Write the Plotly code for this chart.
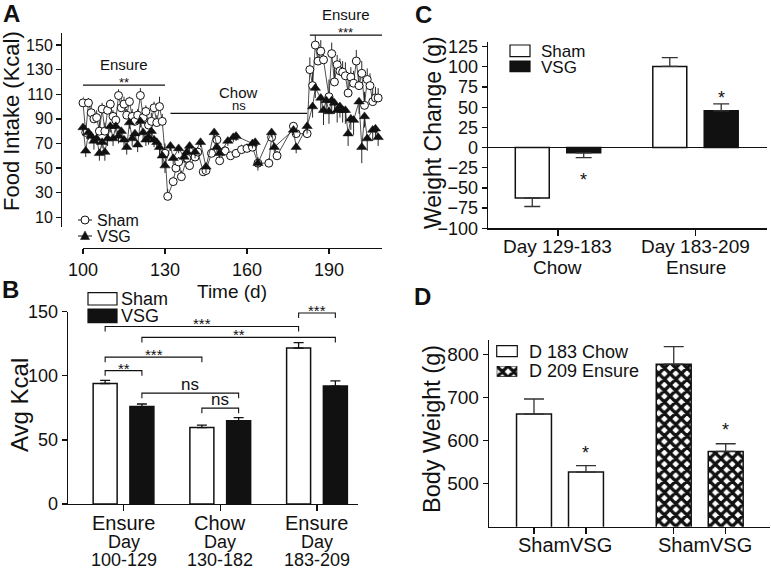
import plotly.graph_objects as go

W, H = 771, 569
FONT = "Liberation Sans, Arial, Helvetica, sans-serif"
INK = "#111111"


def X(px):
    return px / W


def Y(py):
    return 1 - py / H


# ---------------- Panel A : daily food intake ----------------
sham_days_ensure1 = [100, 101, 102, 103, 104, 105, 106, 107, 108, 109, 110, 111, 112, 113, 114,
                     115, 116, 117, 118, 119, 120, 121, 122, 123, 124, 125, 126, 127, 128, 129]
sham_kcal_ensure1 = [103, 79, 103, 95, 90, 91, 80, 98, 80, 97, 102, 92, 89, 109, 99,
                     102, 93, 104, 92, 88, 93, 109, 91, 96, 85, 88, 99, 87, 100, 88]
sham_sem_ensure1 = [5, 6, 4, 7, 5, 6, 8, 5, 7, 6, 4, 5, 6, 5, 7,
                    6, 5, 4, 6, 7, 5, 6, 8, 5, 6, 7, 5, 6, 8, 6]
sham_days_chow = [130, 131, 133, 134, 135, 136, 138, 139, 141, 142, 144, 145, 147, 149,
                  150, 152, 154, 156, 158, 160, 162, 164, 168, 169, 171, 177, 178, 182]
sham_kcal_chow = [62, 27, 39, 50, 55, 43, 58, 52, 59, 63, 47, 48, 62, 73,
                  56, 64, 60, 62, 65, 66, 67, 54, 54, 75, 60, 84, 78, 78]
sham_sem_chow = [8, 6, 4, 5, 4, 5, 4, 5, 3, 4, 4, 5, 4, 5,
                 3, 4, 3, 3, 4, 4, 4, 5, 4, 4, 4, 3, 4, 5]
sham_days_ensure2 = [183, 184, 185, 186, 187, 188, 190, 191, 192, 193, 194, 195, 196,
                     197, 198, 199, 200, 201, 202, 203, 204, 205, 206, 207, 208]
sham_kcal_ensure2 = [130, 117, 150, 137, 145, 138, 108, 143, 120, 134, 129, 128, 125,
                     111, 124, 119, 137, 117, 127, 101, 122, 117, 104, 107, 107]
sham_sem_ensure2 = [10, 12, 8, 11, 9, 10, 14, 9, 12, 8, 10, 9, 11,
                    13, 8, 10, 9, 12, 10, 11, 9, 10, 12, 9, 8]

vsg_days_ensure1 = [100, 101, 102, 103, 104, 105, 106, 107, 108, 109, 110, 111, 112, 113, 114,
                    115, 116, 117, 118, 119, 120, 121, 122, 123, 124, 125, 126, 127, 128, 129]
vsg_kcal_ensure1 = [83, 64, 79, 76, 72, 74, 62, 71, 63, 74, 84, 74, 84, 76, 80,
                    73, 67, 87, 74, 78, 69, 88, 79, 73, 75, 80, 73, 71, 67, 60]
vsg_sem_ensure1 = [6, 5, 6, 5, 7, 5, 6, 5, 7, 6, 5, 6, 5, 6, 5,
                   7, 6, 5, 6, 5, 6, 5, 6, 5, 6, 5, 6, 5, 7, 8]
vsg_days_chow = [130, 132, 133, 135, 137, 138, 139, 141, 143, 145, 148, 149,
                 150, 153, 155, 156, 162, 163, 164, 169, 170, 177, 178, 182]
vsg_kcal_chow = [52, 68, 58, 66, 59, 63, 68, 63, 71, 51, 79, 67,
                 62, 72, 75, 76, 70, 71, 54, 79, 67, 81, 67, 84]
vsg_sem_chow = [6, 4, 5, 4, 5, 4, 4, 5, 4, 5, 5, 4,
                4, 4, 4, 4, 4, 4, 6, 4, 4, 4, 5, 6]
vsg_days_ensure2 = [184, 185, 187, 188, 189, 190, 191, 192, 193, 194, 195,
                    196, 197, 198, 199, 201, 202, 203, 204, 206, 207, 208]
vsg_kcal_ensure2 = [100, 115, 107, 97, 105, 96, 105, 103, 97, 100, 97,
                    97, 78, 90, 89, 104, 67, 92, 74, 81, 82, 75]
vsg_sem_ensure2 = [9, 8, 10, 12, 9, 10, 11, 9, 10, 9, 10,
                   11, 10, 9, 12, 10, 13, 9, 10, 9, 8, 7]

a_xticks = [100, 130, 160, 190]
a_yticks = [10, 30, 50, 70, 90, 110, 130, 150]
a_period_names = ["Ensure", "Chow", "Ensure"]
a_period_sig = ["**", "ns", "***"]
a_period_start = [100, 132, 183]
a_period_end = [130, 182, 209.4]
a_period_level = [117.4, 94.4, 158.1]
a_series_names = ["Sham", "VSG"]

# ---------------- Panel B : average intake ----------------
b_groups = ["Ensure", "Chow", "Ensure"]
b_day_word = ["Day", "Day", "Day"]
b_ranges = ["100-129", "130-182", "183-209"]
b_sham = [94, 59.6, 121.6]
b_sham_sem = [2.5, 2.0, 4.2]
b_vsg = [76, 65, 92]
b_vsg_sem = [2.0, 2.4, 4.0]
b_yticks = [0, 50, 100, 150]
# comparisons: (series, group) -> (series, group), bracket level, label
b_comp_from = [("Sham", 2), ("Sham", 0), ("VSG", 0), ("Sham", 0), ("Sham", 0), ("VSG", 0), ("Sham", 1)]
b_comp_to = [("VSG", 2), ("Sham", 2), ("VSG", 2), ("Sham", 1), ("VSG", 0), ("VSG", 1), ("VSG", 1)]
b_comp_level = [149, 138.5, 130, 114.6, 104, 86.5, 74.8]
b_comp_label = ["***", "***", "**", "***", "**", "ns", "ns"]

# ---------------- Panel C : weight change ----------------
c_labels_top = ["Day 129-183", "Day 183-209"]
c_labels_bottom = ["Chow", "Ensure"]
c_sham = [-62.5, 100.5]
c_sham_sem = [10.5, 11]
c_vsg = [-6.5, 45.5]
c_vsg_sem = [6, 8.5]
c_star_y = [-40, 62]
c_yticks = [-100, -75, -50, -25, 0, 25, 50, 75, 100, 125]

# ---------------- Panel D : body weight ----------------
d_series = ["D 183 Chow", "D 209 Ensure"]
d_bar_labels = ["Sham", "VSG"]
d_chow = [662, 527]
d_chow_sem = [35, 15]
d_ensure = [778, 575]
d_ensure_sem = [41, 18]
d_star_y = [571, 624]
d_yticks = [500, 600, 700, 800]

# ------------------------------------------------------------
B_OFF, B_W = 0.19, 0.248
C_OFF, C_W = 0.187, 0.247
D_OFF, D_W = 0.186, 0.25

fig = go.Figure()
annotations = []
shapes = []


def add_text(text, x, y, size, xref="paper", yref="paper", xanchor="center",
             yanchor="middle", angle=0, bold=False, yshift=0, xshift=0):
    annotations.append(dict(
        text=text, x=x, y=y, xref=xref, yref=yref, xanchor=xanchor, yanchor=yanchor,
        showarrow=False, textangle=angle, yshift=yshift, xshift=xshift, borderpad=0, borderwidth=0,
        font=dict(family=FONT, size=size, color=INK, weight="bold" if bold else "normal")))


def rect_px(x0, y0, x1, y1, fill="white"):
    shapes.append(dict(type="rect", xref="paper", yref="paper", x0=X(x0), x1=X(x1),
                       y0=Y(y1), y1=Y(y0), fillcolor=fill, line=dict(color=INK, width=1.2)))


# ---- Panel A traces
sham_days = sham_days_ensure1 + sham_days_chow + sham_days_ensure2
sham_kcal = sham_kcal_ensure1 + sham_kcal_chow + sham_kcal_ensure2
sham_sem = sham_sem_ensure1 + sham_sem_chow + sham_sem_ensure2
vsg_days = vsg_days_ensure1 + vsg_days_chow + vsg_days_ensure2
vsg_kcal = vsg_kcal_ensure1 + vsg_kcal_chow + vsg_kcal_ensure2
vsg_sem = vsg_sem_ensure1 + vsg_sem_chow + vsg_sem_ensure2

fig.add_trace(go.Scatter(
    x=sham_days, y=sham_kcal, mode="lines+markers", name="Sham", cliponaxis=False,
    line=dict(color="#222222", width=0.8),
    marker=dict(symbol="circle", size=8, color="white", line=dict(color=INK, width=1)),
    error_y=dict(type="data", symmetric=False, array=sham_sem, arrayminus=[0] * len(sham_sem),
                 color=INK, thickness=0.9, width=0),
    xaxis="x", yaxis="y"))
fig.add_trace(go.Scatter(
    x=vsg_days, y=vsg_kcal, mode="lines+markers", name="VSG", cliponaxis=False,
    line=dict(color="#222222", width=0.8),
    marker=dict(symbol="triangle-up", size=9, color=INK, line=dict(color=INK, width=0.5)),
    error_y=dict(type="data", symmetric=False, array=[0] * len(vsg_sem), arrayminus=vsg_sem,
                 color=INK, thickness=0.9, width=0),
    xaxis="x", yaxis="y"))

for name, sig, s, e, lev in zip(a_period_names, a_period_sig, a_period_start, a_period_end, a_period_level):
    shapes.append(dict(type="line", xref="x", yref="y", x0=s, x1=e, y0=lev, y1=lev,
                       line=dict(color=INK, width=1.3)))
    mid = (s + e) / 2
    add_text(name, mid, lev, 15, xref="x", yref="y", yshift=21)
    add_text(sig, mid, lev, 13, xref="x", yref="y", yshift=8 if sig == "ns" else 3)

# legend A
shapes.append(dict(type="line", xref="paper", yref="paper", x0=X(78), x1=X(92), y0=Y(220), y1=Y(220),
                   line=dict(color=INK, width=1)))
shapes.append(dict(type="circle", xref="paper", yref="paper", x0=X(81), x1=X(89), y0=Y(224), y1=Y(216),
                   fillcolor="white", line=dict(color=INK, width=1)))
shapes.append(dict(type="line", xref="paper", yref="paper", x0=X(78), x1=X(92), y0=Y(236), y1=Y(236),
                   line=dict(color=INK, width=1)))
shapes.append(dict(type="path", xref="paper", yref="paper",
                   path=f"M{X(85)},{Y(231)} L{X(80.5)},{Y(239.5)} L{X(89.5)},{Y(239.5)} Z",
                   fillcolor=INK, line=dict(color=INK, width=0.5)))
add_text(a_series_names[0], X(97), Y(220), 16, xanchor="left")
add_text(a_series_names[1], X(97), Y(236), 16, xanchor="left")

# ---- Panel B traces
b_idx = list(range(len(b_groups)))
b_pos = {"Sham": [i - B_OFF for i in b_idx], "VSG": [i + B_OFF for i in b_idx]}
fig.add_trace(go.Bar(
    x=b_pos["Sham"], y=b_sham, width=B_W, name="Sham",
    marker=dict(color="white", line=dict(color=INK, width=1.5)),
    error_y=dict(type="data", symmetric=False, array=b_sham_sem, arrayminus=[0] * 3,
                 color=INK, thickness=1.3, width=5),
    xaxis="x2", yaxis="y2"))
fig.add_trace(go.Bar(
    x=b_pos["VSG"], y=b_vsg, width=B_W, name="VSG",
    marker=dict(color=INK, line=dict(color=INK, width=1.5)),
    error_y=dict(type="data", symmetric=False, array=b_vsg_sem, arrayminus=[0] * 3,
                 color=INK, thickness=1.3, width=5),
    xaxis="x2", yaxis="y2"))

for (sa, ga), (sb, gb), lev, lab in zip(b_comp_from, b_comp_to, b_comp_level, b_comp_label):
    xa = b_pos[sa][ga]
    xb = b_pos[sb][gb]
    shapes.append(dict(type="path", xref="x2", yref="y2",
                       path=f"M{xa},{lev - 4} L{xa},{lev} L{xb},{lev} L{xb},{lev - 4}",
                       line=dict(color=INK, width=1.1)))
    add_text(lab, (xa + xb) / 2, lev, 17 if lab == "ns" else 15, xref="x2", yref="y2",
             yshift=9 if lab == "ns" else 2.5)

for i in b_idx:
    add_text(b_groups[i], i, Y(523), 20, xref="x2")
    add_text(b_day_word[i], i, Y(542), 18, xref="x2")
    add_text(b_ranges[i], i, Y(560), 18, xref="x2")

rect_px(88, 292.7, 117, 305, "white")
rect_px(88, 309, 117, 322.7, INK)
add_text("Sham", X(121), Y(298.5), 18, xanchor="left")
add_text("VSG", X(121), Y(315.5), 18, xanchor="left")
add_text("Time (d)", X(232), Y(291), 19)

# ---- Panel C traces
c_idx = [0, 1]
fig.add_trace(go.Bar(
    x=[i - C_OFF for i in c_idx], y=c_sham, width=C_W, name="Sham",
    marker=dict(color="white", line=dict(color=INK, width=1.5)),
    error_y=dict(type="data", symmetric=False,
                 array=[s if v > 0 else 0 for v, s in zip(c_sham, c_sham_sem)],
                 arrayminus=[s if v < 0 else 0 for v, s in zip(c_sham, c_sham_sem)],
                 color="#333333", thickness=1.3, width=8),
    xaxis="x3", yaxis="y3"))
fig.add_trace(go.Bar(
    x=[i + C_OFF for i in c_idx], y=c_vsg, width=C_W, name="VSG",
    marker=dict(color=INK, line=dict(color=INK, width=1.5)),
    error_y=dict(type="data", symmetric=False,
                 array=[s if v > 0 else 0 for v, s in zip(c_vsg, c_vsg_sem)],
                 arrayminus=[s if v < 0 else 0 for v, s in zip(c_vsg, c_vsg_sem)],
                 color="#333333", thickness=1.3, width=8),
    xaxis="x3", yaxis="y3"))
for i in c_idx:
    add_text("*", i + C_OFF, c_star_y[i], 18, xref="x3", yref="y3")
    add_text(c_labels_top[i], i, Y(246), 19, xref="x3")
    add_text(c_labels_bottom[i], i, Y(268), 19, xref="x3")
rect_px(510, 45, 530, 56.7, "white")
rect_px(510, 61, 530, 71.7, INK)
add_text("Sham", X(541), Y(51), 17, xanchor="left")
add_text("VSG", X(541), Y(67), 17, xanchor="left")

# ---- Panel D traces
HATCH = dict(shape="x", fgcolor=INK, bgcolor="white", size=8, solidity=0.65)
fig.add_trace(go.Bar(
    x=[-D_OFF, D_OFF], y=d_chow, width=D_W, name=d_series[0],
    marker=dict(color="white", line=dict(color=INK, width=1.5)),
    error_y=dict(type="data", symmetric=False, array=d_chow_sem, arrayminus=[0, 0],
                 color="#333333", thickness=1.3, width=10),
    xaxis="x4", yaxis="y4"))
fig.add_trace(go.Bar(
    x=[1 - D_OFF, 1 + D_OFF], y=d_ensure, width=D_W, name=d_series[1],
    marker=dict(color="white", line=dict(color=INK, width=1.5), pattern=HATCH),
    error_y=dict(type="data", symmetric=False, array=d_ensure_sem, arrayminus=[0, 0],
                 color="#333333", thickness=1.3, width=10),
    xaxis="x4", yaxis="y4"))
for g in [0, 1]:
    add_text("*", g + D_OFF, d_star_y[g], 18, xref="x4", yref="y4")
    add_text(d_bar_labels[0], g, Y(545), 20, xref="x4", xanchor="right", xshift=10)
    add_text(d_bar_labels[1], g, Y(545), 20, xref="x4", xanchor="left", xshift=10)

# legend D (white swatch + hatched swatch on a tiny helper axis)
rect_px(496.7, 345.7, 517.3, 356.7, "white")
fig.add_trace(go.Bar(
    x=[0.5], y=[1], width=1, name=d_series[1] + " key",
    marker=dict(color="white", line=dict(color=INK, width=1.2), pattern=HATCH),
    xaxis="x5", yaxis="y5", hoverinfo="skip"))
add_text(d_series[0], X(529), Y(351.5), 18, xanchor="left")
add_text(d_series[1], X(529), Y(371), 18, xanchor="left")

# ---- axis titles and panel letters
add_text("Food Intake (Kcal)", X(11), Y(121), 22, angle=-90)
add_text("Avg Kcal", X(19), Y(405), 24, angle=-90)
add_text("Weight Change (g)", X(433), Y(133), 23, angle=-90)
add_text("Body Weight (g)", X(432), Y(429), 23.5, angle=-90)
add_text("A", X(11), Y(0), 24, bold=True, yanchor="top")
add_text("B", X(10), Y(289), 24, bold=True)
add_text("C", X(423), Y(1), 24, bold=True, yanchor="top")
add_text("D", X(422), Y(296), 24, bold=True)


def ax(**kw):
    d = dict(showgrid=False, zeroline=False, ticks="outside", ticklen=5, tickwidth=1.3,
             tickcolor=INK, showline=True, linecolor=INK, linewidth=1.3, automargin=False,
             tickfont=dict(family=FONT, size=17, color=INK), fixedrange=True)
    d.update(kw)
    return d


fig.update_layout(
    template="none",
    width=W, height=569, margin=dict(l=0, r=0, t=0, b=0, pad=0), autosize=False,
    paper_bgcolor="white", plot_bgcolor="white", showlegend=False,
    barmode="overlay", annotations=annotations, shapes=shapes,
    font=dict(family=FONT, color=INK),
    xaxis=ax(anchor="free", position=Y(248), domain=[X(83), X(382)], range=[100, 209.4],
             tickvals=a_xticks, tickfont=dict(family=FONT, size=18, color=INK)),
    yaxis=ax(anchor="free", position=X(61), domain=[Y(226.7), Y(33)], range=[2.35, 159.8],
             tickvals=a_yticks, tickfont=dict(family=FONT, size=16, color=INK)),
    xaxis2=ax(anchor="y2", domain=[X(68), X(358)], range=[-0.574, 2.424],
              tickvals=b_idx, showticklabels=False, ticklen=6),
    yaxis2=ax(anchor="x2", domain=[Y(504), Y(311.7)], range=[0, 150], tickvals=b_yticks,
              tickfont=dict(family=FONT, size=18, color=INK)),
    xaxis3=ax(anchor="y3", domain=[X(488), X(767)], range=[-0.509, 1.52],
              tickvals=c_idx, showticklabels=False, ticklen=6),
    yaxis3=ax(anchor="x3", domain=[Y(228.3), Y(41.8)], range=[-100, 131], tickvals=c_yticks,
              zeroline=True, zerolinecolor=INK, zerolinewidth=1.3,
              tickfont=dict(family=FONT, size=18, color=INK)),
    xaxis4=ax(anchor="y4", domain=[X(489), X(770)], range=[-0.508, 1.503],
              tickvals=[-D_OFF, D_OFF, 1 - D_OFF, 1 + D_OFF], showticklabels=False, ticklen=6),
    yaxis4=ax(anchor="x4", domain=[Y(526.7), Y(339.7)], range=[400, 835], tickvals=d_yticks,
              tickfont=dict(family=FONT, size=19, color=INK)),
    xaxis5=dict(anchor="y5", domain=[X(496.7), X(517.3)], range=[0, 1], visible=False,
                fixedrange=True, automargin=False),
    yaxis5=dict(anchor="x5", domain=[Y(376.7), Y(366)], range=[0, 1], visible=False,
                fixedrange=True, automargin=False),
)

fig.write_html(
    "out.html",
    config={"displayModeBar": False, "staticPlot": True},
    post_script="document.body.style.margin='0';document.body.style.padding='0';"
                "document.documentElement.style.overflow='hidden';",
)
